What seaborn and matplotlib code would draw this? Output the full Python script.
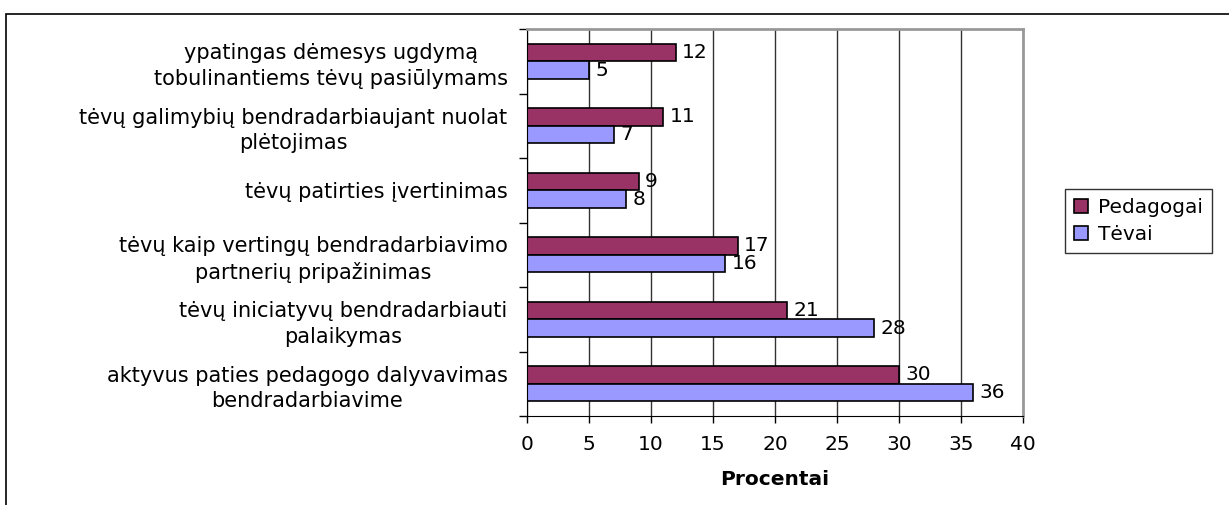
import pandas as pd
import numpy as np
import matplotlib.pyplot as plt
import seaborn as sns
from matplotlib.patches import Rectangle

categories = [
    "ypatingas dėmesys ugdymą\ntobulinantiems tėvų pasiūlymams",
    "tėvų galimybių bendradarbiaujant nuolat\nplėtojimas",
    "tėvų patirties įvertinimas",
    "tėvų kaip vertingų bendradarbiavimo\npartnerių pripažinimas",
    "tėvų iniciatyvų bendradarbiauti\npalaikymas",
    "aktyvus paties pedagogo dalyvavimas\nbendradarbiavime",
]
pedagogai = [12, 11, 9, 17, 21, 30]
tevai = [5, 7, 8, 16, 28, 36]
series = ["Pedagogai", "Tėvai"]

df = pd.DataFrame({
    "kategorija": categories * 2,
    "reiksme": pedagogai + tevai,
    "grupe": [series[0]] * len(categories) + [series[1]] * len(categories),
})

sns.set_style("white")
plt.rcParams['font.family'] = ['DejaVu Sans']
plt.rcParams['text.color'] = 'black'
plt.rcParams['xtick.color'] = 'black'
plt.rcParams['ytick.color'] = 'black'
plt.rcParams['axes.labelcolor'] = 'black'
fs = 14.5

fig = plt.figure(figsize=(12.29, 5.05), dpi=100)
ax = fig.add_axes([527 / 1229, 1 - 416 / 505, 496 / 1229, 387 / 505])

# outer chart frame (right and bottom edges fall outside the picture)
fig.patches.append(Rectangle((6 / 1229, -0.1), 1.2, 1.1 - 14 / 505,
                             transform=fig.transFigure, fill=False,
                             edgecolor="black", linewidth=1.2))

sns.barplot(data=df, y="kategorija", x="reiksme", hue="grupe", orient="h",
            palette={"Pedagogai": "#993366", "Tėvai": "#9999FF"},
            saturation=1, width=0.55, edgecolor="black", linewidth=1.2,
            ax=ax, legend=True)

for cont in ax.containers:
    ax.bar_label(cont, padding=4.5, fontsize=fs, color="black")

ax.set_xlim(0, 40)
ax.set_ylim(len(categories) - 0.5, -0.5)
ax.set_xticks(np.arange(0, 41, 5))
ax.tick_params(axis="x", labelsize=fs, length=5, width=1, color="black",
               direction="out", pad=9, bottom=True)
ax.tick_params(axis="y", which="major", labelsize=15, length=0, pad=14)
ax.set_yticks(np.arange(-0.5, len(categories), 1), minor=True)
ax.tick_params(axis="y", which="minor", length=6, width=1, color="black",
               direction="out", left=True)
for lab in ax.get_yticklabels():
    lab.set_multialignment("center")
    lab.set_linespacing(1.35)

ax.xaxis.grid(True, color="#333333", linewidth=1)
ax.set_axisbelow(True)
ax.set_xlabel("Procentai", fontsize=fs, fontweight="bold", labelpad=11)
ax.set_ylabel("")

for s in ["top", "right"]:
    ax.spines[s].set_color("#999999")
    ax.spines[s].set_linewidth(2)
ax.spines["left"].set_color("black")
ax.spines["bottom"].set_color("black")

ax.legend(loc="upper left", bbox_to_anchor=(1065 / 1229, 1 - 189 / 505),
          bbox_transform=fig.transFigure, fontsize=fs, frameon=True,
          fancybox=False, edgecolor="black", handlelength=0.7,
          handleheight=0.7, handletextpad=0.5, borderpad=0.45,
          labelspacing=0.4, borderaxespad=0)
ax.get_legend().get_frame().set_linewidth(1)

fig.savefig("out.png", dpi=100)
